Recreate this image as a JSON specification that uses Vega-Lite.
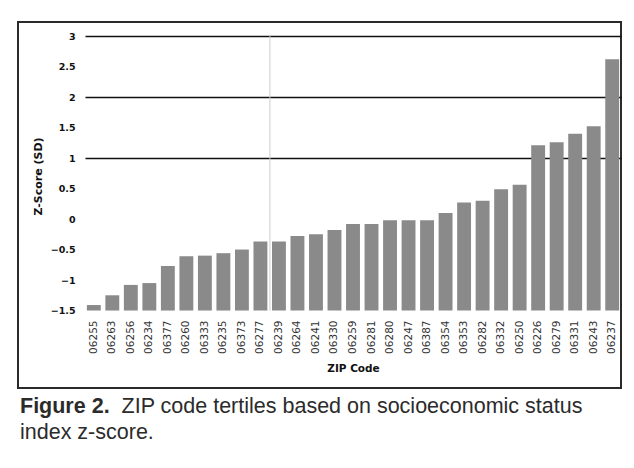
{
  "$schema": "https://vega.github.io/schema/vega-lite/v6.json",
  "width": 603,
  "height": 366,
  "padding": {"left": 18, "top": 22, "right": 13, "bottom": 10},
  "background": "white",
  "title": {
    "text": "Figure 2.",
    "subtitle": ["\u200b\u00a0\u00a0\u00a0\u00a0\u00a0\u00a0\u00a0\u00a0\u00a0\u00a0\u00a0\u00a0\u00a0\u00a0\u00a0\u00a0\u00a0ZIP code tertiles based on socioeconomic status", "index z-score."],
    "orient": "bottom",
    "anchor": "start",
    "dx": 2,
    "offset": 8,
    "font": "Liberation Sans",
    "fontSize": 21.5,
    "fontWeight": "bold",
    "color": "#2b2b2b",
    "lineHeight": 26,
    "subtitleFont": "Liberation Sans",
    "subtitleFontSize": 21.5,
    "subtitleFontWeight": "normal",
    "subtitleColor": "#2b2b2b",
    "subtitleLineHeight": 26,
    "subtitlePadding": -21.5
  },
  "config": {
    "view": {"stroke": "#2a2a2a", "strokeWidth": 2},
    "axis": {"labelFont": "DejaVu Sans", "titleFont": "DejaVu Sans", "labelColor": "#111", "titleColor": "#111"}
  },
  "data": {
    "values": [
      {"zip": "06255", "z": -1.41},
      {"zip": "06263", "z": -1.25},
      {"zip": "06256", "z": -1.08},
      {"zip": "06234", "z": -1.05},
      {"zip": "06377", "z": -0.77},
      {"zip": "06260", "z": -0.61},
      {"zip": "06333", "z": -0.60},
      {"zip": "06235", "z": -0.56},
      {"zip": "06373", "z": -0.50},
      {"zip": "06277", "z": -0.37},
      {"zip": "06239", "z": -0.37},
      {"zip": "06264", "z": -0.28},
      {"zip": "06241", "z": -0.25},
      {"zip": "06330", "z": -0.18},
      {"zip": "06259", "z": -0.08},
      {"zip": "06281", "z": -0.08},
      {"zip": "06280", "z": -0.02},
      {"zip": "06247", "z": -0.02},
      {"zip": "06387", "z": -0.02},
      {"zip": "06354", "z": 0.10},
      {"zip": "06353", "z": 0.27},
      {"zip": "06282", "z": 0.30},
      {"zip": "06332", "z": 0.49},
      {"zip": "06250", "z": 0.56},
      {"zip": "06226", "z": 1.21},
      {"zip": "06279", "z": 1.26},
      {"zip": "06331", "z": 1.40},
      {"zip": "06243", "z": 1.52},
      {"zip": "06237", "z": 2.62}
    ]
  },
  "layer": [
    {
      "mark": {"type": "bar", "fill": "#8a8a8a"},
      "encoding": {
        "x": {
          "field": "zip",
          "type": "nominal",
          "sort": null,
          "scale": {"range": [67, 603], "paddingInner": 0.25, "paddingOuter": 0.1},
          "axis": {
            "orient": "bottom",
            "offset": -78,
            "domain": false,
            "ticks": false,
            "labelAngle": 270,
            "labelPadding": 10,
            "labelFontSize": 10.5,
            "labelColor": "#333",
            "title": "ZIP Code",
            "titleFontSize": 10.5,
            "titleFontWeight": "bold",
            "titlePadding": 10
          }
        },
        "y": {
          "field": "z",
          "type": "quantitative",
          "scale": {"domain": [-2.77, 3.23], "nice": false, "zero": false},
          "axis": {
            "values": [-1.5, -1, -0.5, 0, 0.5, 1, 1.5, 2, 2.5, 3],
            "format": "~g",
            "offset": -67,
            "domain": false,
            "ticks": false,
            "labelPadding": 10,
            "labelFontSize": 9.5,
            "labelFontWeight": "bold",
            "grid": true,
            "gridColor": {"condition": {"test": "datum.value != 1 && datum.value != 2 && datum.value != 3", "value": "transparent"}, "value": "#111"},
            "gridWidth": 1.5,
            "title": "Z-Score (SD)",
            "titleFontSize": 11,
            "titleFontWeight": "bold",
            "titleX": -42,
            "titleY": 154
          }
        },
        "y2": {"datum": -1.5}
      }
    },
    {
      "data": {"values": [{"zip": "06239", "top": 3, "bottom": -1.5}]},
      "mark": {"type": "rule", "color": "#cfcfcf", "strokeWidth": 1},
      "encoding": {
        "x": {"field": "zip", "type": "nominal", "sort": null, "bandPosition": -0.15},
        "y": {"field": "top", "type": "quantitative"},
        "y2": {"field": "bottom"}
      }
    }
  ]
}
